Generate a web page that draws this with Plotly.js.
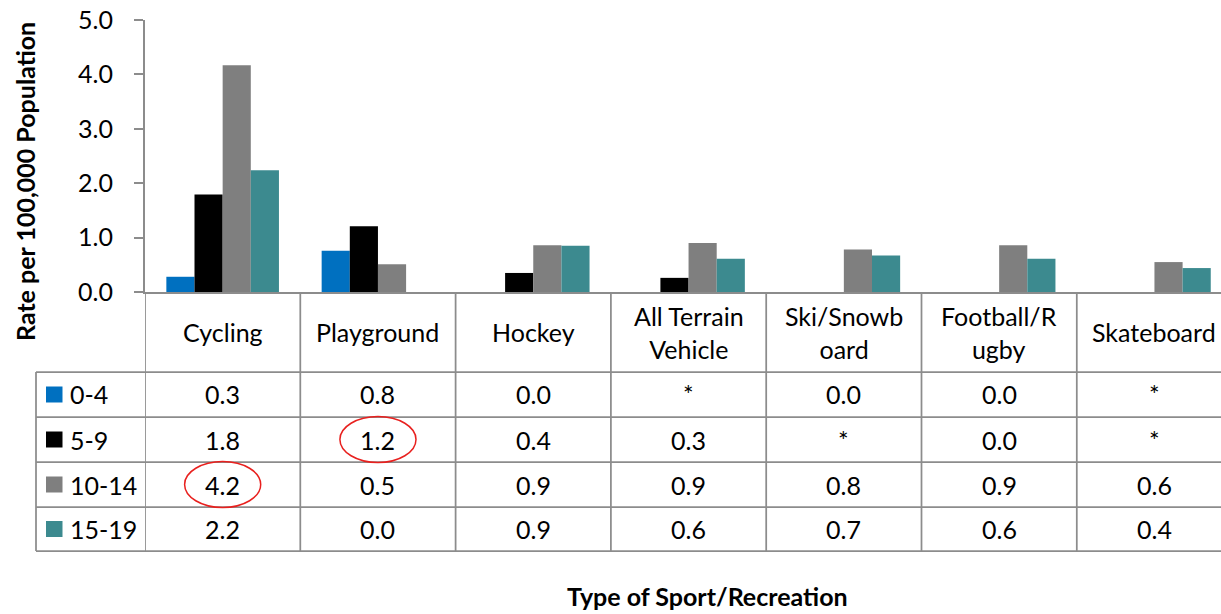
<!DOCTYPE html>
<html>
<head>
<meta charset="utf-8">
<script src="https://cdn.plot.ly/plotly-3.0.1.min.js"></script>
<style>html,body{margin:0;padding:0;background:#fff;}#chart{width:1221px;height:614px;}</style>
</head>
<body>
<div id="chart"></div>
<script>
// ---- data ----
const categories = ['Cycling','Playground','Hockey','All Terrain Vehicle','Ski/Snowboard','Football/Rugby','Skateboard'];
const headerLabels = ['Cycling','Playground','Hockey','All Terrain<br>Vehicle','Ski/Snowb<br>oard','Football/R<br>ugby','Skateboard'];
const seriesNames = ['0-4','5-9','10-14','15-19'];
const age0_4   = [0.28, 0.76, 0,    0,    0,    0,    0];
const age5_9   = [1.79, 1.21, 0.35, 0.26, 0,    0,    0];
const age10_14 = [4.17, 0.51, 0.86, 0.90, 0.78, 0.86, 0.55];
const age15_19 = [2.24, 0,    0.85, 0.61, 0.67, 0.61, 0.44];
const text0_4   = ['0.3','0.8','0.0','*','0.0','0.0','*'];
const text5_9   = ['1.8','1.2','0.4','0.3','*','0.0','*'];
const text10_14 = ['4.2','0.5','0.9','0.9','0.8','0.9','0.6'];
const text15_19 = ['2.2','0.0','0.9','0.6','0.7','0.6','0.4'];
const yTicks = [0,1,2,3,4,5];
const yTickText = ['0.0','1.0','2.0','3.0','4.0','5.0'];
// highlighted cells: [category index, series index]
const highlights = [[0,2],[1,1]];

// ---- styling ----
const W = 1221, H = 614;
const colors = ['#0070C0','#000000','#7F7F7F','#3C8A8F'];
const gridCol = '#8C8C8C';
const FONT = 'Lato, "Noto Sans", sans-serif';
const fs = 25;
const px = v => v / W;
const py = v => 1 - v / H;

const plotL = 145, plotT = 20, axisY = 292, catW = 155.3;
const rowLines = [372, 417, 462, 507, 551];
const headerMid = (axisY + rowLines[0]) / 2;
const rowMids = [0,1,2,3].map(i => (rowLines[i] + rowLines[i+1]) / 2);
const tableLeft = 36;

const series = [age0_4, age5_9, age10_14, age15_19];
const tableTexts = [text0_4, text5_9, text10_14, text15_19];
const xIdx = categories.map((c,i) => i);

const traces = series.map((s, k) => ({
  type: 'bar', x: xIdx, y: s, name: seriesNames[k],
  marker: {color: colors[k], line: {width: 0}},
  hoverinfo: 'skip'
}));

const shapes = [];
const annotations = [];

// table vertical lines at category boundaries
for (let i = 0; i <= categories.length; i++) {
  shapes.push({type:'line', xref:'x', yref:'paper', x0:i-0.5, x1:i-0.5, y0:py(rowLines[4]), y1:py(axisY),
    line:{color:gridCol, width:1.75}});
}
// legend column left edge
shapes.push({type:'line', xref:'paper', yref:'paper', x0:px(tableLeft), x1:px(tableLeft), y0:py(rowLines[4]), y1:py(rowLines[0]),
  line:{color:gridCol, width:1.75}});
// horizontal row lines
rowLines.forEach(r => shapes.push({type:'line', xref:'paper', yref:'paper', x0:px(tableLeft), x1:1, y0:py(r), y1:py(r),
  line:{color:gridCol, width:1.75}}));

// header labels
headerLabels.forEach((t, i) => annotations.push({xref:'x', yref:'paper', x:i, y:py(headerMid), text:t, showarrow:false,
  xanchor:'center', yanchor:'middle', font:{family:FONT, size:fs, color:'#000'}}));

// legend keys and row labels
seriesNames.forEach((n, k) => {
  const m = rowMids[k];
  shapes.push({type:'rect', xref:'paper', yref:'paper', x0:px(46), x1:px(62.5), y0:py(m+8), y1:py(m-8),
    fillcolor:colors[k], line:{width:0}});
  annotations.push({xref:'paper', yref:'paper', x:px(68), y:py(m), text:n, showarrow:false,
    xanchor:'left', yanchor:'middle', font:{family:FONT, size:fs, color:'#000'}});
  tableTexts[k].forEach((t, i) => annotations.push({xref:'x', yref:'paper', x:i, y:py(m), text:t, showarrow:false,
    xanchor:'center', yanchor:'middle', font:{family:FONT, size:fs, color:'#000'}}));
});

// red ellipses around highlighted cells
highlights.forEach(([i, k]) => {
  const m = rowMids[k];
  shapes.push({type:'circle', xref:'x', yref:'paper', x0:i-0.245, x1:i+0.245, y0:py(m+23), y1:py(m-23),
    line:{color:'#E8201E', width:1.5}});
});

// axis titles
annotations.push({xref:'paper', yref:'paper', x:px(25), y:py(182), text:'<b>Rate per 100,000 Population</b>',
  textangle:-90, showarrow:false, xanchor:'center', yanchor:'middle', font:{family:FONT, size:25, color:'#000'}});
annotations.push({xref:'paper', yref:'paper', x:px(707), y:py(596), text:'<b>Type of Sport/Recreation</b>',
  showarrow:false, xanchor:'center', yanchor:'middle', font:{family:FONT, size:25, color:'#000'}});

const layout = {
  width: W, height: H,
  margin: {l:0, r:0, t:0, b:0, pad:0},
  paper_bgcolor: '#fff', plot_bgcolor: '#fff',
  showlegend: false,
  barmode: 'group', bargap: 0.275, bargroupgap: 0,
  xaxis: {domain:[px(plotL), 1], range:[-0.5, -0.5 + (W - plotL)/catW], showticklabels:false, ticks:'',
    showgrid:false, zeroline:false, showline:true, linecolor:gridCol, linewidth:2, fixedrange:true},
  yaxis: {domain:[py(axisY), py(plotT)], range:[0,5], tickvals:yTicks, ticktext:yTickText, ticks:'outside', ticklen:9,
    tickwidth:2, tickcolor:gridCol, showgrid:false, zeroline:false, showline:true, linecolor:gridCol, linewidth:2,
    ticklabelstandoff: 16, tickfont:{family:FONT, size:fs, color:'#000'}, fixedrange:true},
  shapes: shapes,
  annotations: annotations
};

Plotly.newPlot('chart', traces, layout, {displayModeBar:false, staticPlot:true});
</script>
</body>
</html>
